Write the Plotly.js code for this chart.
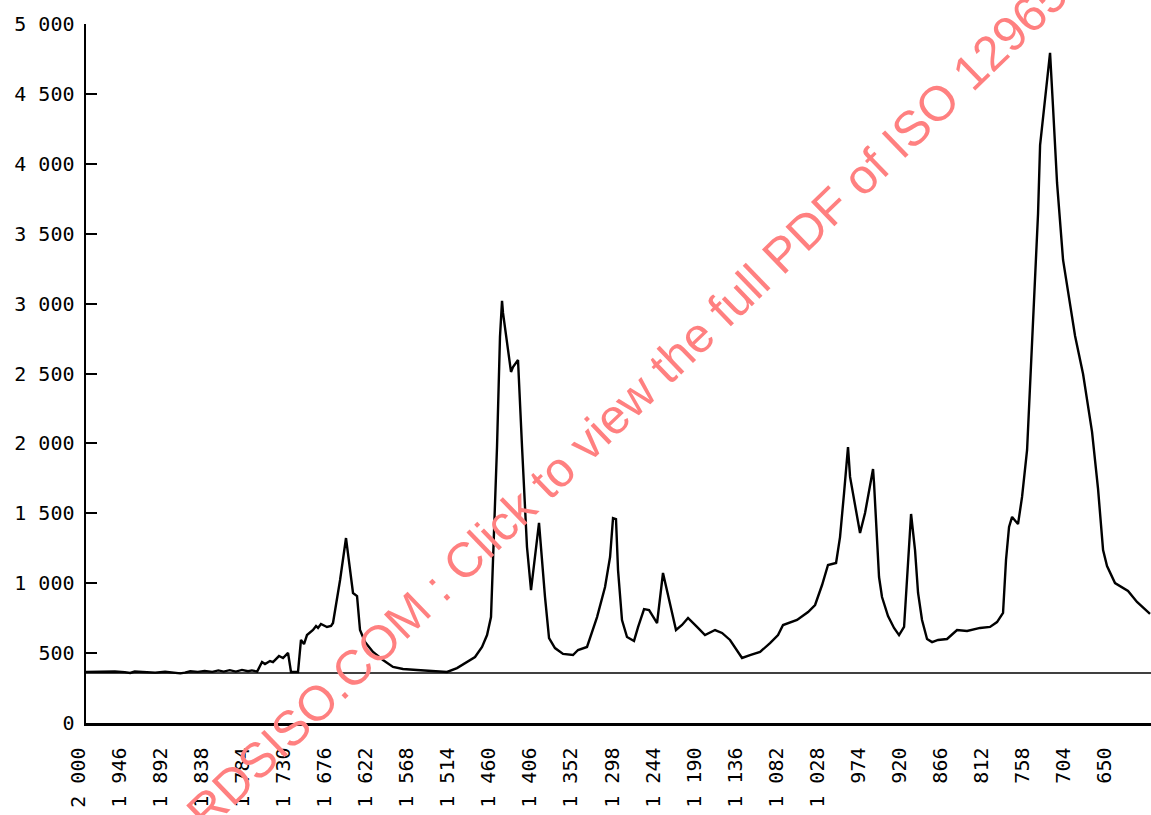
<!DOCTYPE html>
<html>
<head>
<meta charset="utf-8">
<script src="https://cdn.plot.ly/plotly-3.0.1.min.js"></script>
<style>html,body{margin:0;padding:0;background:#fff;}#chart{width:1151px;height:815px;}</style>
</head>
<body>
<div id="chart"></div>
<script>
// Wavenumber (x) and signal (y)
const wavenumber = [2000,1988,1975,1962,1949,1942,1936,1922,1909,1896,1883,1876,1870,1863,1853,1844,1834,1826,1819,1811,1803,1795,1787,1782,1775,
 1768.6,1764.7,1758.1,1754.2,1746.3,1741.0,1734.4,1730.5,1721.3,1717.4,1713.4,1709.5,1701.6,1697.6,1695.0,1691.1,1683.2,1677.9,1675.3,1666,
 1658.2,1649.0,1643.7,1639.8,1633.2,1622.7,1609.6,1596.4,1583.3,1564.9,1547.8,1525.4,1512.3,1501.8,1488.6,1479.4,1472.8,1467.6,1465.0,1459.7,
 1455.8,1453.1,1451.8,1441.3,1438.7,1432.1,1426.8,1420.3,1415.0,1404.5,1396.6,1391.3,1383.5,1372.9,1359.8,1353.2,1341.4,1328.2,1317.7,1311.1,
 1307.2,1303.3,1300.6,1295.4,1288.8,1279.6,1274.2,1266.4,1259.8,1249.3,1241.5,1232.3,1224.4,1216.5,1208.6,1196.8,1186.3,1173.1,1163.9,1153.4,
 1144.2,1137.6,1127.1,1113.9,1100.8,1090.3,1083.7,1065.3,1050.8,1041.6,1032.4,1024.6,1014.0,1008.8,1003.5,998.3,995.6,989.0,982.5,975.9,
 970.6,965.4,964.1,960.1,957.5,953.6,945.7,937.8,931.2,924.6,920.7,915.4,910.2,906.2,901.0,894.4,887.8,879.9,868.1,855.0,
 841.8,824.7,811.6,802.4,794.5,790.6,786.6,782.6,774.8,769.5,762.9,755.0,748.5,745.8,732.7,728.8,723.5,715.6,699.8,689.3,
 677.5,669.6,663.0,657.8,647.3,630.2,618.4,601.3];
const signal = [366,368,370,368,364,358,368,362,360,366,362,355,360,370,366,372,366,376,368,378,368,380,370,376,368,
 436,422,443,436,479,465,501,365,365,594,565,629,665,694,680,708,687,694,715,1023,
 1323,930,908,665,579,508,451,401,386,379,372,365,393,429,472,544,629,758,1144,1974,
 2761,3019,2933,2511,2546,2597,1974,1259,951,1431,901,608,536,494,486,522,544,758,973,1187,
 1466,1459,1094,737,615,587,687,815,808,715,1073,858,665,701,751,687,629,665,644,594,
 522,465,486,508,572,629,701,737,794,844,987,1130,1145,1330,1645,1974,1760,1545,1359,1502,
 1667,1817,1717,1359,1044,901,765,680,629,687,1044,1495,1237,930,737,601,579,594,601,665,
 658,680,687,722,787,1166,1402,1474,1423,1617,1953,2904,3641,4134,4793,4406,3863,3312,2768,2496,
 2082,1674,1237,1123,1001,944,866,780];
const baselineValue = 358;
const xTickValues = [2000,1946,1892,1838,1784,1730,1676,1622,1568,1514,1460,1406,1352,1298,1244,1190,1136,1082,1028,974,920,866,812,758,704,650];
const xTickLabels = ['2 000','1 946','1 892','1 838','1 784','1 730','1 676','1 622','1 568','1 514','1 460','1 406','1 352','1 298','1 244','1 190','1 136','1 082','1 028','974','920','866','812','758','704','650'];
const yTickValues = [0,500,1000,1500,2000,2500,3000,3500,4000,4500,5000];
const yTickLabels = ['0','500','1 000','1 500','2 000','2 500','3 000','3 500','4 000','4 500','5 000'];
const watermarkText = 'STANDARDSISO.COM : Click to view the full PDF of ISO 12965';

const tickFont = {family: 'DejaVu Sans Mono, monospace', size: 20, color: '#000'};

const traces = [
  {x: [wavenumber[0], wavenumber[wavenumber.length-1], 600], y: [baselineValue, baselineValue, baselineValue],
   mode: 'lines', line: {color: '#000', width: 1.5}, hoverinfo: 'skip', showlegend: false},
  {x: wavenumber, y: signal, mode: 'lines', line: {color: '#000', width: 2.4}, showlegend: false}
];

const layout = {
  width: 1151, height: 815,
  margin: {l: 86, r: 0, t: 24, b: 92, pad: 0},
  paper_bgcolor: '#fff', plot_bgcolor: '#fff',
  showlegend: false,
  xaxis: {
    range: [2000, 600], autorange: false,
    tickmode: 'array', tickvals: xTickValues, ticktext: xTickLabels,
    tickangle: -90, ticks: '', showgrid: false, zeroline: false,
    showline: true, linecolor: '#000', linewidth: 2.5,
    tickfont: tickFont, ticklabelstandoff: 14, ticklabelshift: 8
  },
  yaxis: {
    range: [0, 5000], autorange: false,
    tickmode: 'array', tickvals: yTickValues, ticktext: yTickLabels,
    ticks: 'inside', ticklen: 11, tickwidth: 2, tickcolor: '#000',
    showgrid: false, zeroline: false,
    showline: true, linecolor: '#000', linewidth: 2.5,
    tickfont: tickFont, ticklabelstandoff: 5
  },
  annotations: [{
    text: watermarkText, xref: 'paper', yref: 'paper', x: 0.442, y: 0.36,
    xanchor: 'center', yanchor: 'middle', showarrow: false, textangle: -44,
    font: {family: 'Liberation Sans, Arial, sans-serif', size: 49, color: '#ff8080'}
  }]
};

Plotly.newPlot('chart', traces, layout, {displayModeBar: false, staticPlot: true});
</script>
</body>
</html>
